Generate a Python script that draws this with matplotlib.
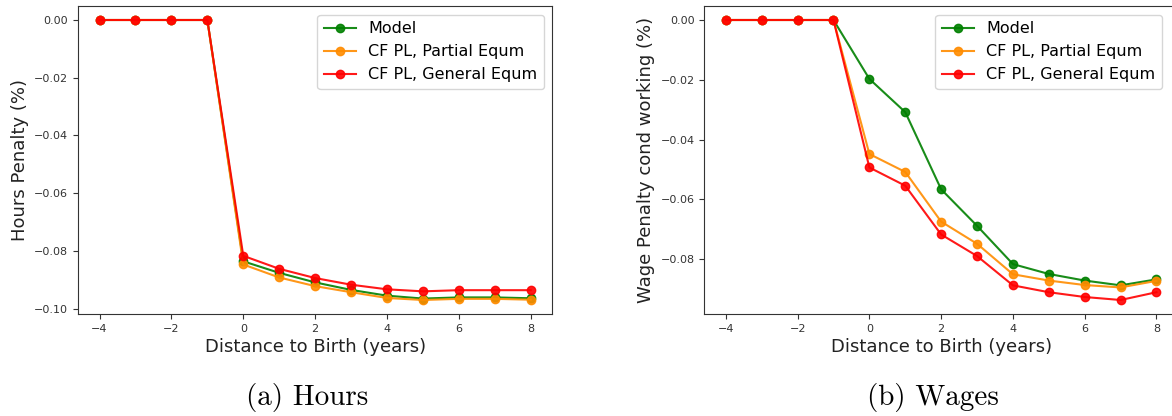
import matplotlib
matplotlib.use("Agg")
import matplotlib.pyplot as plt

# Years relative to the birth of the first child
years = [-4, -3, -2, -1, 0, 1, 2, 3, 4, 5, 6, 7, 8]

# Panel (a): hours penalty (%)
hours_model = [0, 0, 0, 0, -0.0836, -0.0876, -0.0909, -0.0935, -0.0955, -0.0965, -0.0961, -0.0961, -0.0964]
hours_partial = [0, 0, 0, 0, -0.0847, -0.0892, -0.0922, -0.0943, -0.0963, -0.0970, -0.0966, -0.0966, -0.0969]
hours_general = [0, 0, 0, 0, -0.0817, -0.0862, -0.0894, -0.0917, -0.0933, -0.0940, -0.0936, -0.0936, -0.0936]

# Panel (b): wage penalty conditional on working (%)
wage_model = [0, 0, 0, 0, -0.0197, -0.0308, -0.0566, -0.0688, -0.0816, -0.0849, -0.0871, -0.0887, -0.0867]
wage_partial = [0, 0, 0, 0, -0.0448, -0.0508, -0.0674, -0.0748, -0.0850, -0.0871, -0.0886, -0.0894, -0.0872]
wage_general = [0, 0, 0, 0, -0.0493, -0.0554, -0.0717, -0.0789, -0.0887, -0.0910, -0.0926, -0.0936, -0.0910]

series_labels = ["Model", "CF PL, Partial Equm", "CF PL, General Equm"]
series_colors = ["green", "darkorange", "red"]

W, H = 1172, 416
fig = plt.figure(figsize=(W / 100, H / 100), dpi=100)

def frac(x0, y0, x1, y1):
    return [x0 / W, 1 - y1 / H, (x1 - x0) / W, (y1 - y0) / H]

ax1 = fig.add_axes(frac(78, 6, 552.3, 314))
ax2 = fig.add_axes(frac(704.3, 6, 1178, 314))

panels = [
    (ax1, [hours_model, hours_partial, hours_general], "Hours Penalty (%)", 544),
    (ax2, [wage_model, wage_partial, wage_general], "Wage Penalty cond working (%)", 1162),
]

for ax, data, ylabel, legend_right in panels:
    for vals, lab, col in zip(data, series_labels, series_colors):
        ax.plot(years, vals, marker="o", color=col, label=lab,
                linewidth=1.5, markersize=6, alpha=0.9)
    ax.set_xticks([-4, -2, 0, 2, 4, 6, 8])
    ax.tick_params(labelsize=8, colors="#333333", labelcolor="#333333")
    ax.set_xlabel("Distance to Birth (years)", fontsize=13, color="#222222",
                  labelpad=3)
    ax.set_ylabel(ylabel, fontsize=13, color="#222222")
    for sp in ax.spines.values():
        sp.set_color("#333333")
    ax.legend(loc="upper right", fontsize=11.5,
              bbox_to_anchor=(legend_right / W, 1 - 15 / H),
              bbox_transform=fig.transFigure, borderaxespad=0.0)

fig.text(307 / W, 1 - 398 / H, "(a) Hours", family="cmr10", fontsize=21,
         ha="center", va="center")
fig.text(933 / W, 1 - 398 / H, "(b) Wages", family="cmr10", fontsize=21,
         ha="center", va="center")

fig.savefig("out.png", dpi=100)
